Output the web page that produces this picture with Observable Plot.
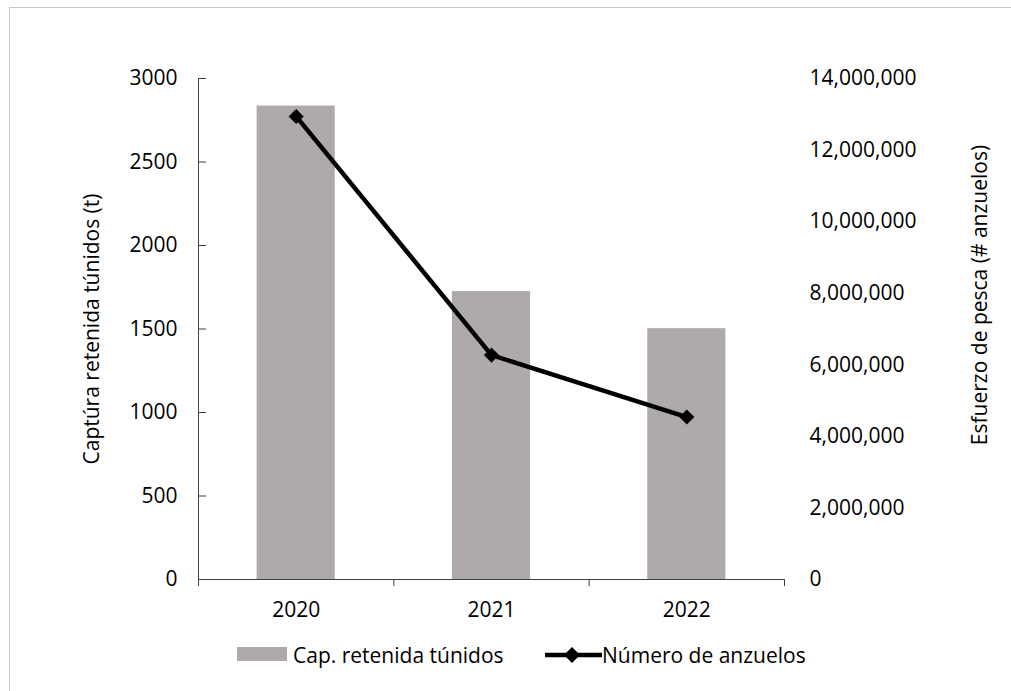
<!DOCTYPE html>
<html><head><meta charset="utf-8">
<script src="https://cdn.jsdelivr.net/npm/d3@7"></script>
<script src="https://cdn.jsdelivr.net/npm/@observablehq/plot@0.6"></script>
<style>
body{margin:0;background:#fff;overflow:hidden;font-family:"Open Sans",sans-serif;}
#wrap{position:relative;width:1011px;height:691px;overflow:hidden;}
#frame{position:absolute;left:9px;top:7px;width:1200px;height:900px;border:1px solid #c8c8c8;}
#chart{position:absolute;left:0;top:0;}
#legend{position:absolute;left:0;top:630px;width:1011px;height:61px;font-size:21px;color:#000;}
.item{position:absolute;top:0;height:50px;line-height:50px;white-space:nowrap;}
</style></head><body>
<div id="wrap"><div id="frame"></div><div id="chart"></div><div id="legend"></div></div>
<script>
// ---- data ----
const years = [2020, 2021, 2022];
const catchT = [2835, 1724, 1502];
const hooks = [12940000, 6270000, 4540000];
const leftTicks = [0, 500, 1000, 1500, 2000, 2500, 3000];
const rightTicks = [0, 2000000, 4000000, 6000000, 8000000, 10000000, 12000000, 14000000];
const yMax = 3000;
const y2Max = 14000000;
const seriesNames = ["Cap. retenida túnidos", "Número de anzuelos"];
const yTitle = "Captúra retenida túnidos (t)";
const y2Title = "Esfuerzo de pesca (# anzuelos)";

// ---- build ----
const barColor = "#adaaa9";
const axisColor = "#404040";
const k = yMax / y2Max;
const data = years.map((year, i) => ({year, catch: catchT[i], hooks: hooks[i]}));
const boundaries = [years[0] - 0.5, ...years.map(y => y + 0.5)];
const font = '"Open Sans", sans-serif';

const plot = Plot.plot({
  width: 1011, height: 630,
  marginLeft: 198, marginRight: 227, marginTop: 78, marginBottom: 51,
  style: {fontFamily: font, fontSize: "21px", color: "#000", background: "transparent", overflow: "visible"},
  x: {domain: [boundaries[0], boundaries[boundaries.length - 1]]},
  y: {domain: [0, yMax]},
  marks: [
    Plot.rectY(data, {x1: d => d.year - 0.2, x2: d => d.year + 0.2, y: "catch", fill: barColor}),
    Plot.ruleY([0], {stroke: axisColor, strokeWidth: 1}),
    Plot.ruleX([boundaries[0]], {stroke: axisColor, strokeWidth: 1}),
    Plot.axisY({anchor: "left", ticks: leftTicks, tickSize: -8, tickPadding: 29, stroke: axisColor,
      tickFormat: d => String(d), label: null, fill: "#000"}),
    Plot.axisY({anchor: "right", ticks: rightTicks.map(v => v * k), tickSize: 0, tickPadding: 25,
      tickFormat: v => d3.format(",")(Math.round(v / k)), label: null, fill: "#000"}),
    Plot.axisX({ticks: boundaries, tickSize: 7, tickFormat: () => "", label: null, stroke: axisColor}),
    Plot.axisX({ticks: years, tickSize: 0, tickPadding: 23, tickFormat: d => String(d), label: null, fill: "#000"}),
    Plot.line(data, {x: "year", y: d => d.hooks * k, stroke: "#000", strokeWidth: 4.5}),
    Plot.dot(data, {x: "year", y: d => d.hooks * k, symbol: "diamond2", fill: "#000", stroke: "none", r: 6.8}),
    Plot.text([yTitle], {frameAnchor: "left", rotate: -90, dx: -106, textAnchor: "middle", lineAnchor: "middle", fontSize: 21, fill: "#000"}),
    Plot.text([y2Title], {frameAnchor: "right", rotate: -90, dx: 196, dy: -34, textAnchor: "middle", lineAnchor: "middle", fontSize: 21, fill: "#000"})
  ]
});
document.getElementById("chart").appendChild(plot);

// ---- legend ----
const legend = document.getElementById("legend");
legend.innerHTML = `
  <div class="item" style="left:237px;top:17px;width:50px;height:14px;background:${barColor}"></div>
  <div class="item" style="left:293px;">${seriesNames[0]}</div>
  <svg class="item" style="left:545px;top:14px;" width="57" height="22">
    <line x1="0" y1="11" x2="57" y2="11" stroke="#000" stroke-width="4.5"/>
    <path d="M27,3 L35,11 L27,19 L19,11 Z" fill="#000"/>
  </svg>
  <div class="item" style="left:602px;">${seriesNames[1]}</div>`;
</script>
</body></html>
